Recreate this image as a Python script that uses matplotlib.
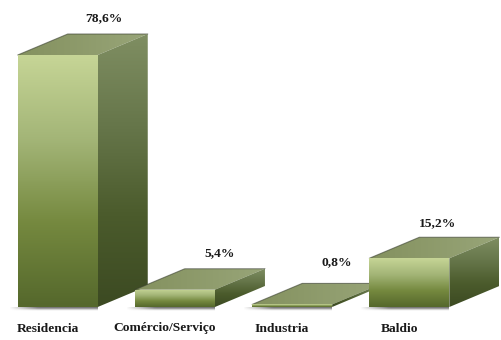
import numpy as np
import matplotlib
matplotlib.use("Agg")
import matplotlib.pyplot as plt
from matplotlib.colors import LinearSegmentedColormap
from matplotlib.patches import Polygon

# Dados
categorias = ["Residencia", "Comércio/Serviço", "Industria", "Baldio"]
valores = [78.6, 5.4, 0.8, 15.2]
rotulos = ["78,6%", "5,4%", "0,8%", "15,2%"]

# Layout (pixels da figura)
W, H = 502, 340
BASE_Y = 307
PX_POR_UNID = 252 / 78.6
PASSO_X = 117.2
X0 = 57.75
LARGURA = 80 / PASSO_X
PROF_X = 50 / PASSO_X
PROF_Y = 21 / PX_POR_UNID

# deslocamento dos rotulos em relacao ao centro da barra / topo de tras (px)
DESL_ROTULO = [(46, 16), (45, 16), (45, 21), (28, 14)]
DESL_CATEG = [-10, -10, -10, -10]

cm_frente = LinearSegmentedColormap.from_list("frente", ["#c6d596", "#a3b577", "#75893f", "#55682c"])
cm_lado = LinearSegmentedColormap.from_list("lado", ["#7f8e62", "#66764a", "#4b5b2c", "#3c4a22"])
cm_topo = LinearSegmentedColormap.from_list("topo", ["#84915f", "#98a578"])

fig = plt.figure(figsize=(W / 100, H / 100), dpi=100)
ax = fig.add_axes([0, 0, 1, 1])
ax.axis("off")


def gradiente(cmap, x0, x1, y0, y1, verts, z, horizontal=False):
    g = np.linspace(0, 1, 128)
    g = g.reshape(1, -1) if horizontal else g.reshape(-1, 1)
    im = ax.imshow(g, cmap=cmap, vmin=0, vmax=1, extent=(x0, x1, y0, y1),
                   origin="upper", aspect="auto", zorder=z, interpolation="bilinear")
    p = Polygon(verts, closed=True, transform=ax.transData, fc="none", ec="none")
    ax.add_patch(p)
    im.set_clip_path(p)


def sombra(x0, x1, z):
    # faixa cinza suave sob a barra, esmaecendo para a esquerda
    img = np.ones((4, 32, 4)) * 0.3
    vert = np.array([0.75, 0.55, 0.25, 0.05]).reshape(-1, 1)
    horiz = np.clip(np.linspace(0, 3, 32), 0, 1).reshape(1, -1)
    img[:, :, 3] = vert * horiz
    ax.imshow(img, extent=(x0, x1, -4 / PX_POR_UNID, 0), origin="upper",
              aspect="auto", zorder=z, interpolation="bilinear")


for i, (v, rot, cat) in enumerate(zip(valores, rotulos, categorias)):
    z = 2 + i * 5
    xe = i - LARGURA / 2
    xd = i + LARGURA / 2

    sombra(xe - 10 / PASSO_X, xd, z)

    # topo
    topo = [(xe, v), (xd, v), (xd + PROF_X, v + PROF_Y), (xe + PROF_X, v + PROF_Y)]
    gradiente(cm_topo, xe, xd + PROF_X, v, v + PROF_Y, topo, z + 1, horizontal=True)
    # lado
    lado = [(xd, 0), (xd + PROF_X, PROF_Y), (xd + PROF_X, v + PROF_Y), (xd, v)]
    gradiente(cm_lado, xd, xd + PROF_X, 0, v + PROF_Y, lado, z + 1)
    # frente
    frente = [(xe, 0), (xd, 0), (xd, v), (xe, v)]
    gradiente(cm_frente, xe, xd, 0, v, frente, z + 2)

    # arestas escuras de tras
    ax.plot([xe, xe + PROF_X, xd + PROF_X], [v, v + PROF_Y, v + PROF_Y],
            color="#3a4030", lw=0.8, alpha=0.6, zorder=z + 1, solid_capstyle="round")

    dx, dy = DESL_ROTULO[i]
    ax.annotate(rot, (i, v + PROF_Y), xytext=(dx * 0.72, dy * 0.72),
                textcoords="offset points", ha="center", va="center",
                family="Liberation Serif", fontweight="bold", fontsize=9.7,
                color="#1a1a1a", zorder=50)
    ax.annotate(cat, (i, 0), xytext=(DESL_CATEG[i] * 0.72, -21.5 * 0.72),
                textcoords="offset points", ha="center", va="center",
                family="Liberation Serif", fontweight="bold", fontsize=9.7,
                color="#1a1a1a", zorder=50)

ax.set_xlim(-X0 / PASSO_X, (W - X0) / PASSO_X)
ax.set_ylim(-(H - BASE_Y) / PX_POR_UNID, BASE_Y / PX_POR_UNID)

fig.savefig("out.png", dpi=100, facecolor="white")
